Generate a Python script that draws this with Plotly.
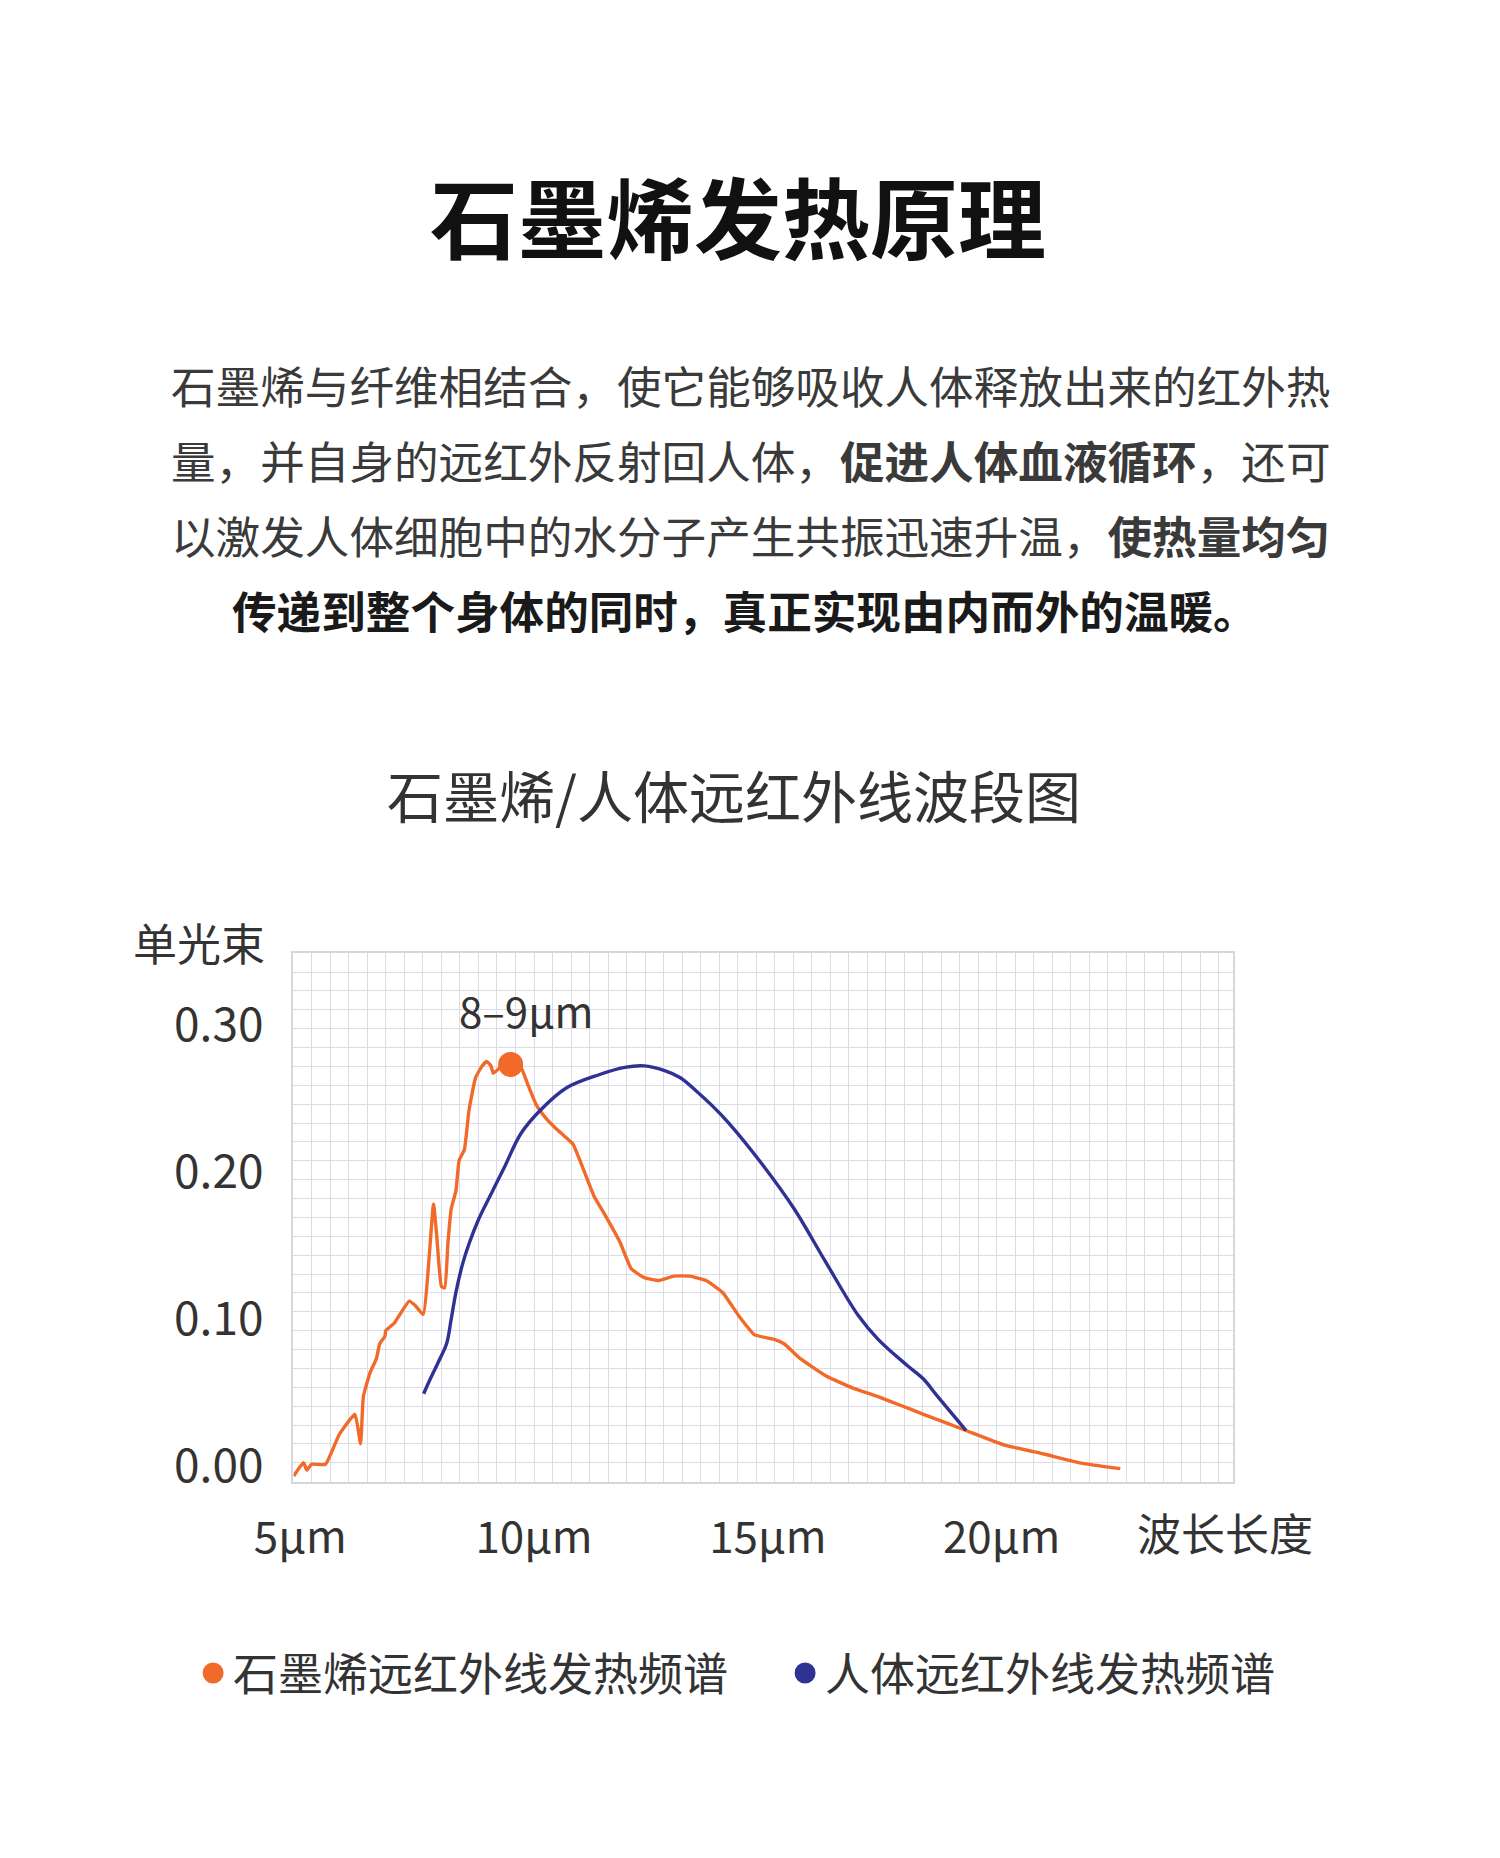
import plotly.graph_objects as go

# 石墨烯 spectrum (wavelength in um, intensity)
graphene_x = [4.86, 5.07, 5.14, 5.24, 5.54, 5.83, 6.17, 6.29, 6.35, 6.49, 6.63, 6.70, 6.81, 6.83,
              7.01, 7.33, 7.46, 7.63, 7.85, 7.92, 8.02, 8.09, 8.16, 8.23, 8.33, 8.40, 8.51, 8.61,
              8.75, 8.89, 8.99, 9.08, 9.13, 9.31, 9.50, 9.72, 9.86, 10.04, 10.24, 10.45, 10.66,
              10.83, 11.04, 11.29, 11.53, 11.84, 12.08, 12.36, 12.67, 12.99, 13.33, 13.68, 14.03,
              14.38, 14.72, 15.14, 15.35, 15.69, 16.25, 16.81, 17.36, 17.85, 18.33, 19.24, 20.07,
              20.90, 21.67, 22.54]
graphene_y = [-0.007, 0.002, -0.003, 0.001, 0.001, 0.021, 0.035, 0.015, 0.047, 0.063, 0.073, 0.083,
              0.088, 0.092, 0.097, 0.112, 0.109, 0.103, 0.178, 0.156, 0.122, 0.121, 0.152, 0.175,
              0.187, 0.208, 0.215, 0.242, 0.264, 0.272, 0.275, 0.272, 0.267, 0.272, 0.273, 0.271,
              0.260, 0.246, 0.237, 0.230, 0.224, 0.219, 0.203, 0.183, 0.170, 0.152, 0.134, 0.128,
              0.126, 0.129, 0.129, 0.126, 0.118, 0.102, 0.089, 0.086, 0.083, 0.073, 0.061, 0.053,
              0.047, 0.041, 0.035, 0.024, 0.014, 0.008, 0.002, -0.002]

# 人体 spectrum
body_x = [7.64, 7.78, 7.99, 8.13, 8.23, 8.33, 8.47, 8.61, 8.82, 9.10, 9.38, 9.72, 10.14, 10.69,
          11.39, 11.94, 12.36, 12.78, 13.13, 13.47, 13.81, 14.17, 14.86, 15.56, 16.25, 16.94,
          17.36, 17.99, 18.33, 18.61, 19.24]
body_y = [0.049, 0.059, 0.073, 0.083, 0.100, 0.118, 0.137, 0.151, 0.168, 0.186, 0.204, 0.226,
          0.242, 0.257, 0.266, 0.271, 0.272, 0.269, 0.264, 0.255, 0.245, 0.233, 0.206, 0.175,
          0.138, 0.102, 0.086, 0.068, 0.059, 0.048, 0.024]

peak_x = [9.5]
peak_y = [0.273]
peak_label = "8–9μm"

x_ticks = [5, 10, 15, 20]
x_ticktext = ["5μm", "10μm", "15μm", "20μm"]
y_ticks = [0, 0.1, 0.2, 0.3]
y_ticktext = ["0.00", "0.10", "0.20", "0.30"]

series_names = ["石墨烯远红外线发热频谱", "人体远红外线发热频谱"]

title = "石墨烯发热原理"
para_lines = [
    "石墨烯与纤维相结合，使它能够吸收人体释放出来的红外热",
    "量，并自身的远红外反射回人体，<b>促进人体血液循环</b>，还可",
    "以激发人体细胞中的水分子产生共振迅速升温，<b>使热量均匀</b>",
    "<b>传递到整个身体的同时，真正实现由内而外的温暖。</b>",
]
chart_title = "石墨烯/人体远红外线波段图"

W, H = 1500, 1858
FONT = "Noto Sans CJK SC, Noto Sans, sans-serif"
ORANGE = "#f26a2a"
BLUE = "#2f3193"
GRID = "#dcdce6"


def px(x):
    return x / W


def py(y):
    return 1 - y / H


fig = go.Figure()
fig.add_trace(go.Scatter(x=graphene_x, y=graphene_y, mode="lines",
                         line=dict(color=ORANGE, width=3.4, shape="spline", smoothing=0.4),
                         showlegend=False))
fig.add_trace(go.Scatter(x=body_x, y=body_y, mode="lines",
                         line=dict(color=BLUE, width=3.4, shape="spline", smoothing=1.0),
                         showlegend=False))
fig.add_trace(go.Scatter(x=peak_x, y=peak_y, mode="markers",
                         marker=dict(color=ORANGE, size=25), showlegend=False))
# legend entries
fig.add_trace(go.Scatter(x=[None], y=[None], mode="markers", name=series_names[0],
                         marker=dict(color=ORANGE, size=25, line=dict(color=ORANGE, width=5))))
fig.add_trace(go.Scatter(x=[None], y=[None], mode="markers", name=series_names[1],
                         marker=dict(color=BLUE, size=25, line=dict(color=BLUE, width=5))))

xr = [4.854, 24.958]
yr = [-0.0108, 0.3486]

fig.update_layout(
    width=W, height=H, autosize=False,
    margin=dict(l=0, r=0, t=0, b=0),
    paper_bgcolor="white", plot_bgcolor="white",
    font=dict(family=FONT, color="#333"),
    xaxis=dict(domain=[px(253), px(1218)], range=xr, tickmode="array", tickvals=x_ticks,
               ticktext=x_ticktext, showgrid=False, zeroline=False, showline=True, mirror=True,
               linecolor="#d6d6de", linewidth=1.5, ticks="", ticklabelstandoff=17,
               tickfont=dict(size=44, color="#333"),
               minor=dict(tickmode="linear", tick0=xr[0], dtick=19 / 48, showgrid=True,
                          gridcolor=GRID, gridwidth=1.2)),
    yaxis=dict(domain=[py(1484), py(952)], range=yr, tickmode="array", tickvals=y_ticks,
               ticktext=y_ticktext, showgrid=False, zeroline=False, showline=True, mirror=True,
               linecolor="#d6d6de", linewidth=1.5, ticks="", ticklabelstandoff=19,
               tickfont=dict(size=46, color="#333"),
               minor=dict(tickmode="linear", tick0=yr[0], dtick=19 / 1480, showgrid=True,
                          gridcolor=GRID, gridwidth=1.2)),
    legend=dict(orientation="h", x=px(150), y=py(1677), xanchor="left", yanchor="middle",
                font=dict(size=45, color="#333"), entrywidth=547, entrywidthmode="pixels",
                bgcolor="rgba(0,0,0,0)"),
)

ann = []
ann.append(dict(text="<b>" + title + "</b>", x=px(709), y=py(207), font=dict(size=88, color="#111")))
for i, line in enumerate(para_lines[:3]):
    ann.append(dict(text=line, x=px(125), y=py([379, 455, 530][i]), xanchor="left",
                    font=dict(size=44.6, color="#3a3a3a")))
ann.append(dict(text=para_lines[3], x=px(717), y=py(606), font=dict(size=44.6, color="#1a1a1a")))
ann.append(dict(text=chart_title, x=px(705), y=py(791), font=dict(size=56, color="#333")))
ann.append(dict(text="单光束", x=px(156), y=py(941), font=dict(size=44, color="#333")))
ann.append(dict(text="波长长度", x=px(1209), y=py(1535), font=dict(size=44, color="#333")))
for a in ann:
    a.update(xref="paper", yref="paper", showarrow=False)
    a.setdefault("xanchor", "center")
    a["yanchor"] = "middle"
ann.append(dict(text=peak_label, x=peak_x[0], y=peak_y[0], xref="x", yref="y", showarrow=False,
                xshift=15, yshift=55, font=dict(size=42, color="#333")))
fig.update_layout(annotations=ann)

fig.write_html("out.html")
